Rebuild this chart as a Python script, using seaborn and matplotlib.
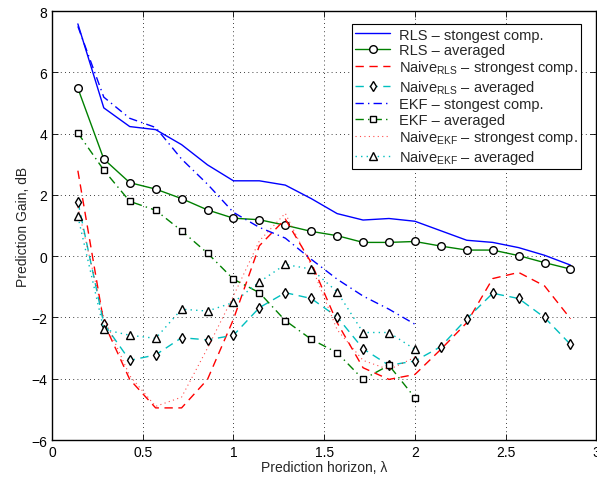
import matplotlib
matplotlib.use("Agg")
import matplotlib.pyplot as plt
import numpy as np
import seaborn as sns

# prediction horizon grid (k/7)
horizon = np.arange(1, 21) / 7.0
horizon_ekf = horizon[:14]

rls_strong = [7.58, 4.84, 4.23, 4.13, 3.64, 2.98, 2.46, 2.46, 2.32, 1.88,
              1.39, 1.18, 1.23, 1.14, 0.83, 0.52, 0.45, 0.28, 0.03, -0.29]
rls_avg = [5.48, 3.17, 2.40, 2.19, 1.88, 1.51, 1.24, 1.19, 1.01, 0.81,
           0.67, 0.45, 0.45, 0.48, 0.33, 0.20, 0.20, 0.02, -0.21, -0.42]
naive_rls_strong = [2.79, -2.17, -4.02, -4.95, -4.95, -4.02, -2.06, 0.34, 1.21, -0.21,
                    -2.17, -3.64, -4.02, -3.86, -3.04, -2.17, -0.73, -0.53, -0.97, -2.04]
naive_rls_avg = [1.78, -2.20, -3.40, -3.22, -2.66, -2.73, -2.58, -1.68, -1.19, -1.38,
                 -1.98, -3.02, -3.56, -3.42, -2.95, -2.04, -1.21, -1.38, -2.00, -2.88]
ekf_strong = [7.50, 5.19, 4.50, 4.20, 3.17, 2.35, 1.43, 0.94, 0.59, -0.10,
              -0.75, -1.30, -1.73, -2.22]
ekf_avg = [4.02, 2.81, 1.79, 1.50, 0.83, 0.10, -0.75, -1.19, -2.10, -2.71,
           -3.15, -4.02, -3.56, -4.62]
naive_ekf_strong = [1.60, -2.00, -3.90, -4.90, -4.60, -3.00, -1.30, 0.50, 1.40, -0.30,
                    -2.40, -3.40, -3.70, -3.30]
naive_ekf_avg = [1.30, -2.39, -2.58, -2.68, -1.73, -1.79, -1.51, -0.84, -0.27, -0.42,
                 -1.16, -2.49, -2.49, -3.04]

labels = ["RLS \u2013 stongest comp.",
          "RLS \u2013 averaged",
          "Naive$_{\\mathrm{RLS}}$ \u2013 strongest comp.",
          "Naive$_{\\mathrm{RLS}}$ \u2013 averaged",
          "EKF \u2013 stongest comp.",
          "EKF \u2013 averaged",
          "Naive$_{\\mathrm{EKF}}$ \u2013 strongest comp.",
          "Naive$_{\\mathrm{EKF}}$ \u2013 averaged"]

sns.set_style("ticks")
plt.rcParams['font.family'] = ['Liberation Sans', 'DejaVu Sans']
plt.rcParams['mathtext.fontset'] = 'custom'
plt.rcParams['mathtext.rm'] = 'Liberation Sans'
plt.rcParams['mathtext.it'] = 'Liberation Sans:italic'
plt.rcParams['font.size'] = 10

fig = plt.figure(figsize=(5.97, 4.81), dpi=100)
ax = fig.add_axes([0.087, 0.083, 0.912, 0.892])

blue = (0, 0, 1)
green = (0, 0.5, 0)
red = (1, 0, 0)
cyan = (0, 0.75, 0.75)
mk = dict(markerfacecolor='white', markeredgecolor='black', markeredgewidth=1.0)

sns.lineplot(x=horizon, y=rls_strong, color=blue, lw=1.0, ax=ax, label=labels[0])
sns.lineplot(x=horizon, y=rls_avg, color=green, lw=1.0, marker='o', markersize=5.5,
             ax=ax, label=labels[1], **mk)
sns.lineplot(x=horizon, y=naive_rls_strong, color=red, lw=1.0, ax=ax,
             label=labels[2], linestyle=(0, (6, 4)))
sns.lineplot(x=horizon, y=naive_rls_avg, color=cyan, lw=1.0, marker='d', markersize=5.5,
             ax=ax, label=labels[3], linestyle=(0, (6, 4)), **mk)
sns.lineplot(x=horizon_ekf, y=ekf_strong, color=blue, lw=1.0, ax=ax,
             label=labels[4], linestyle=(0, (6, 3, 1, 3)))
sns.lineplot(x=horizon_ekf, y=ekf_avg, color=green, lw=1.0, marker='s', markersize=4.5,
             ax=ax, label=labels[5], linestyle=(0, (6, 3, 1, 3)), **mk)
sns.lineplot(x=horizon_ekf, y=naive_ekf_strong, color=red, lw=0.8, ax=ax,
             label=labels[6], linestyle=(0, (1, 3)), alpha=0.7)
sns.lineplot(x=horizon_ekf, y=naive_ekf_avg, color=cyan, lw=1.0, marker='^', markersize=5.5,
             ax=ax, label=labels[7], linestyle=(0, (1, 3)), **mk)

ax.set_xlim(0, 3)
ax.set_ylim(-6, 8)
ax.set_xticks(np.arange(0, 3.01, 0.5))
ax.set_xticklabels(['0', '0.5', '1', '1.5', '2', '2.5', '3'])
ax.set_yticks(np.arange(-6, 8.01, 2))
ax.set_yticklabels(['\u22126', '\u22124', '\u22122', '0', '2', '4', '6', '8'])
ax.tick_params(direction='in', top=True, right=True, length=4, width=0.6,
               labelsize=10, colors='black')
ax.grid(True, linestyle=(0, (1, 4)), color='black', lw=0.6)
for sp in ax.spines.values():
    sp.set_visible(True)
    sp.set_linewidth(1.0)
    sp.set_color('black')
ax.set_xlabel("Prediction horizon, \u03bb", fontsize=10, labelpad=1)
ax.set_ylabel("Prediction Gain, dB", fontsize=10, labelpad=1)

leg = ax.legend(loc='upper right', bbox_to_anchor=(0.986, 0.987), fontsize=10.5,
                handlelength=2.4, labelspacing=0.1, borderpad=0.25, handletextpad=0.6,
                fancybox=False, framealpha=1, edgecolor='black')
leg.get_frame().set_linewidth(0.8)

fig.savefig("out.png", dpi=100)
